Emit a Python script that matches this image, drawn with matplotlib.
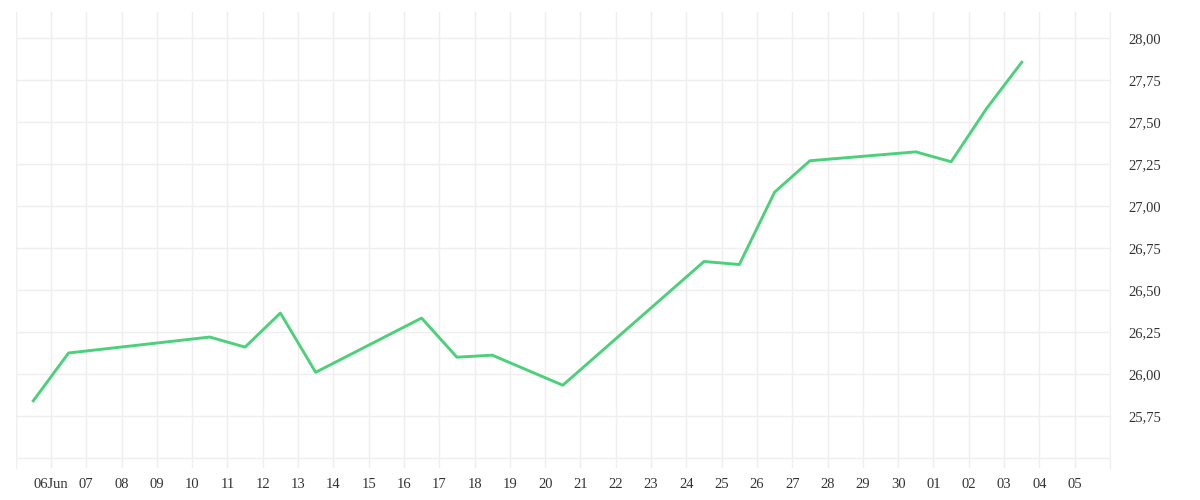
import matplotlib
matplotlib.use("Agg")
import matplotlib.pyplot as plt
import numpy as np

# valores (fechamento por dia)
datas = np.array([
    "2025-06-05T12:00", "2025-06-06T12:00", "2025-06-10T12:00", "2025-06-11T12:00",
    "2025-06-12T12:00", "2025-06-13T12:00", "2025-06-16T12:00", "2025-06-17T12:00",
    "2025-06-18T12:00", "2025-06-20T12:00", "2025-06-24T12:00", "2025-06-25T12:00",
    "2025-06-26T12:00", "2025-06-27T12:00", "2025-06-30T12:00", "2025-07-01T12:00",
    "2025-07-02T12:00", "2025-07-03T12:00",
], dtype="datetime64[m]")
precos = np.array([25.84, 26.125, 26.22, 26.16, 26.363, 26.01, 26.333, 26.10,
                   26.112, 25.933, 26.67, 26.652, 27.083, 27.27, 27.323, 27.264,
                   27.58, 27.857])

y_ticks = [25.50, 25.75, 26.00, 26.25, 26.50, 26.75, 27.00, 27.25, 27.50, 27.75, 28.00]
dias = np.arange(np.datetime64("2025-06-05"), np.datetime64("2025-07-07"), np.timedelta64(1, "D"))

cor_grade = "#efefef"
cor_texto = "#333333"

fig = plt.figure(figsize=(12, 5), dpi=100)
ax = fig.add_axes([0.013, 0.064, 0.912, 0.912])

ax.plot(datas.astype("datetime64[s]").astype(object), precos, color="#4cd17a", linewidth=2.1)

ax.set_xlim(dias[0].astype(object), dias[-1].astype(object))
ax.set_ylim(25.44, 28.156)

# eixo x: um tick por dia
ax.set_xticks([d.astype(object) for d in dias])
rotulos = []
for d in dias:
    dt = d.astype(object)
    if d == dias[0] or d == dias[-1]:
        rotulos.append("")
    elif dt.day == 6 and dt.month == 6:
        rotulos.append(dt.strftime("%d%b"))
    else:
        rotulos.append(dt.strftime("%d"))
ax.set_xticklabels(rotulos)

ax.set_yticks(y_ticks)
ax.set_yticklabels([""] + [f"{v:.2f}".replace(".", ",") for v in y_ticks[1:]])
ax.yaxis.tick_right()

ax.grid(True, color=cor_grade, linewidth=1)
ax.set_axisbelow(True)
ax.tick_params(axis="both", length=0, labelcolor=cor_texto, labelsize=10.5)
ax.tick_params(axis="x", pad=7)
ax.tick_params(axis="y", pad=13)
for lbl in ax.get_xticklabels() + ax.get_yticklabels():
    lbl.set_fontfamily("Liberation Serif")

for lado in ["top", "bottom"]:
    ax.spines[lado].set_visible(False)
for lado in ["left", "right"]:
    ax.spines[lado].set_color(cor_grade)

plt.savefig("out.png", dpi=100)
